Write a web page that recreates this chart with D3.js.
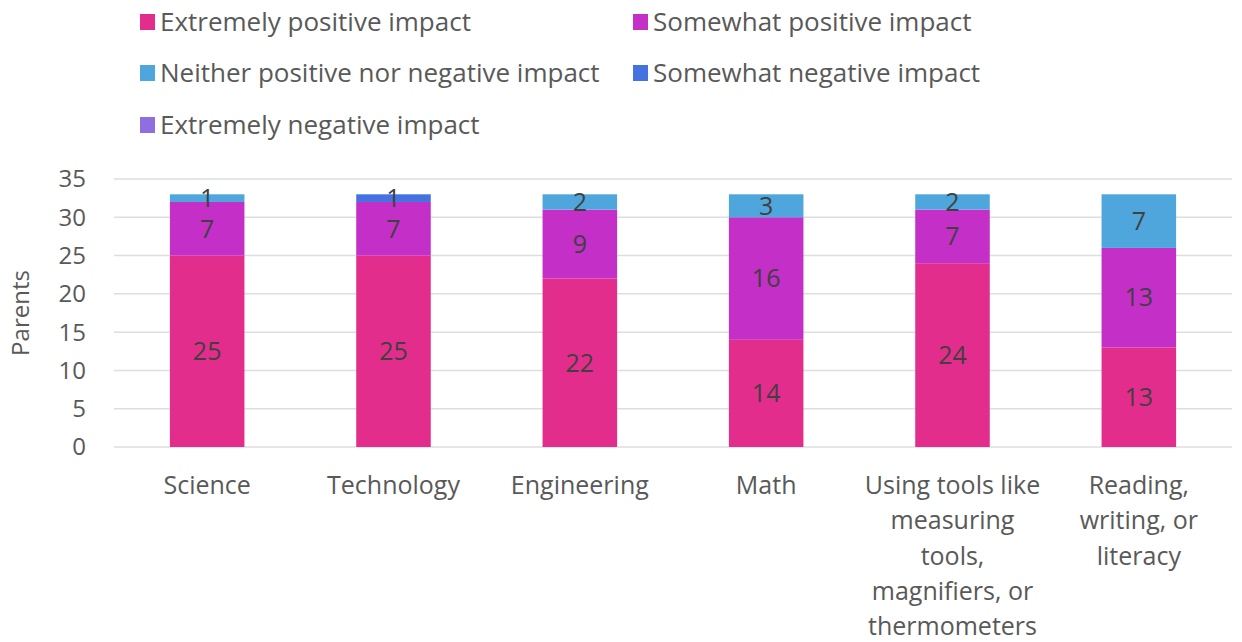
<!DOCTYPE html>
<html>
<head>
<meta charset="utf-8">
<script src="https://cdn.jsdelivr.net/npm/d3@7"></script>
<style>
  body { margin: 0; background: #fff; }
  text { font-family: "Open Sans", Lato, sans-serif; }
</style>
</head>
<body>
<div class="svg-container"></div>
<script>
// data
var categories = ["Science", "Technology", "Engineering", "Math",
    "Using tools like measuring tools, magnifiers, or thermometers",
    "Reading, writing, or literacy"];
var categoryLines = [
    ["Science"], ["Technology"], ["Engineering"], ["Math"],
    ["Using tools like", "measuring", "tools,", "magnifiers, or", "thermometers"],
    ["Reading,", "writing, or", "literacy"]];
var seriesNames = ["Extremely positive impact", "Somewhat positive impact",
    "Neither positive nor negative impact", "Somewhat negative impact",
    "Extremely negative impact"];
var extremelyPositive = [25, 25, 22, 14, 24, 13];
var somewhatPositive  = [7, 7, 9, 16, 7, 13];
var neither           = [1, 0, 2, 3, 2, 7];
var somewhatNegative  = [0, 1, 0, 0, 0, 0];
var extremelyNegative = [0, 0, 0, 0, 0, 0];
var yTicks = [0, 5, 10, 15, 20, 25, 30, 35];

var colors = ["#e32d8d", "#c42fc8", "#4ea6dc", "#4472e0", "#8e6fe0"];
var seriesValues = [extremelyPositive, somewhatPositive, neither, somewhatNegative, extremelyNegative];

var width = 1242, height = 642;
var plotLeft = 114, plotRight = 1232, plotTop = 179, plotBottom = 447;

var svg = d3.select(".svg-container").append("svg")
    .attr("width", width)
    .attr("height", height);

var rows = categories.map(function(c, i) {
    var r = { cat: c };
    seriesNames.forEach(function(s, j) { r[s] = seriesValues[j][i]; });
    return r;
});
var stacked = d3.stack().keys(seriesNames)(rows);

var x = d3.scaleBand().domain(categories).range([plotLeft, plotRight]).paddingInner(0.6).paddingOuter(0.3);
var y = d3.scaleLinear().domain([0, 35]).range([plotBottom, plotTop]);

// gridlines
svg.append("g").selectAll("line")
    .data(yTicks)
    .enter().append("line")
    .attr("x1", plotLeft).attr("x2", plotRight)
    .attr("y1", function(d) { return y(d); })
    .attr("y2", function(d) { return y(d); })
    .attr("stroke", "#dedede")
    .attr("stroke-width", 1.5);

// y tick labels
svg.append("g").selectAll("text")
    .data(yTicks)
    .enter().append("text")
    .attr("x", 86)
    .attr("y", function(d) { return y(d); })
    .attr("dy", "0.35em")
    .attr("text-anchor", "end")
    .attr("fill", "#595959")
    .style("font-size", "24px")
    .text(function(d) { return d; });

// y axis label
svg.append("text")
    .attr("transform", "rotate(-90)")
    .attr("x", -(plotTop + plotBottom) / 2)
    .attr("y", 29)
    .attr("text-anchor", "middle")
    .attr("fill", "#595959")
    .style("font-size", "24px")
    .text("Parents");

// bars
var layers = svg.append("g").selectAll("g")
    .data(stacked)
    .enter().append("g")
    .attr("fill", function(d, i) { return colors[i]; });

layers.selectAll("rect")
    .data(function(d) { return d; })
    .enter().append("rect")
    .attr("x", function(d) { return x(d.data.cat); })
    .attr("width", x.bandwidth())
    .attr("y", function(d) { return y(d[1]); })
    .attr("height", function(d) { return y(d[0]) - y(d[1]); });

// value labels
layers.selectAll("text")
    .data(function(d) { return d.filter(function(p) { return p[1] - p[0] > 0; }); })
    .enter().append("text")
    .attr("x", function(d) { return x(d.data.cat) + x.bandwidth() / 2; })
    .attr("y", function(d) { return y((d[0] + d[1]) / 2); })
    .attr("dy", "0.35em")
    .attr("text-anchor", "middle")
    .attr("fill", "#404040")
    .style("font-size", "25px")
    .text(function(d) { return d[1] - d[0]; });

// x labels
var xl = svg.append("g").selectAll("text")
    .data(categories)
    .enter().append("text")
    .attr("text-anchor", "middle")
    .attr("fill", "#595959")
    .style("font-size", "25px")
    .attr("x", function(d) { return x(d) + x.bandwidth() / 2; })
    .attr("y", 494);
xl.selectAll("tspan")
    .data(function(d, i) { return categoryLines[i]; })
    .enter().append("tspan")
    .attr("x", function() { return d3.select(this.parentNode).attr("x"); })
    .attr("dy", function(d, i) { return i === 0 ? 0 : 35.3; })
    .text(function(d) { return d; });

// legend
var legendPos = [[140, 22], [633, 22], [140, 73], [633, 73], [140, 125]];
var lg = svg.append("g").selectAll("g")
    .data(seriesNames)
    .enter().append("g")
    .attr("transform", function(d, i) { return "translate(" + legendPos[i][0] + "," + legendPos[i][1] + ")"; });
lg.append("rect")
    .attr("x", 0).attr("y", -8)
    .attr("width", 15).attr("height", 16)
    .attr("fill", function(d, i) { return colors[i]; });
lg.append("text")
    .attr("x", 20)
    .attr("dy", "0.35em")
    .attr("fill", "#595959")
    .style("font-size", "26px")
    .text(function(d) { return d; });
</script>
</body>
</html>
